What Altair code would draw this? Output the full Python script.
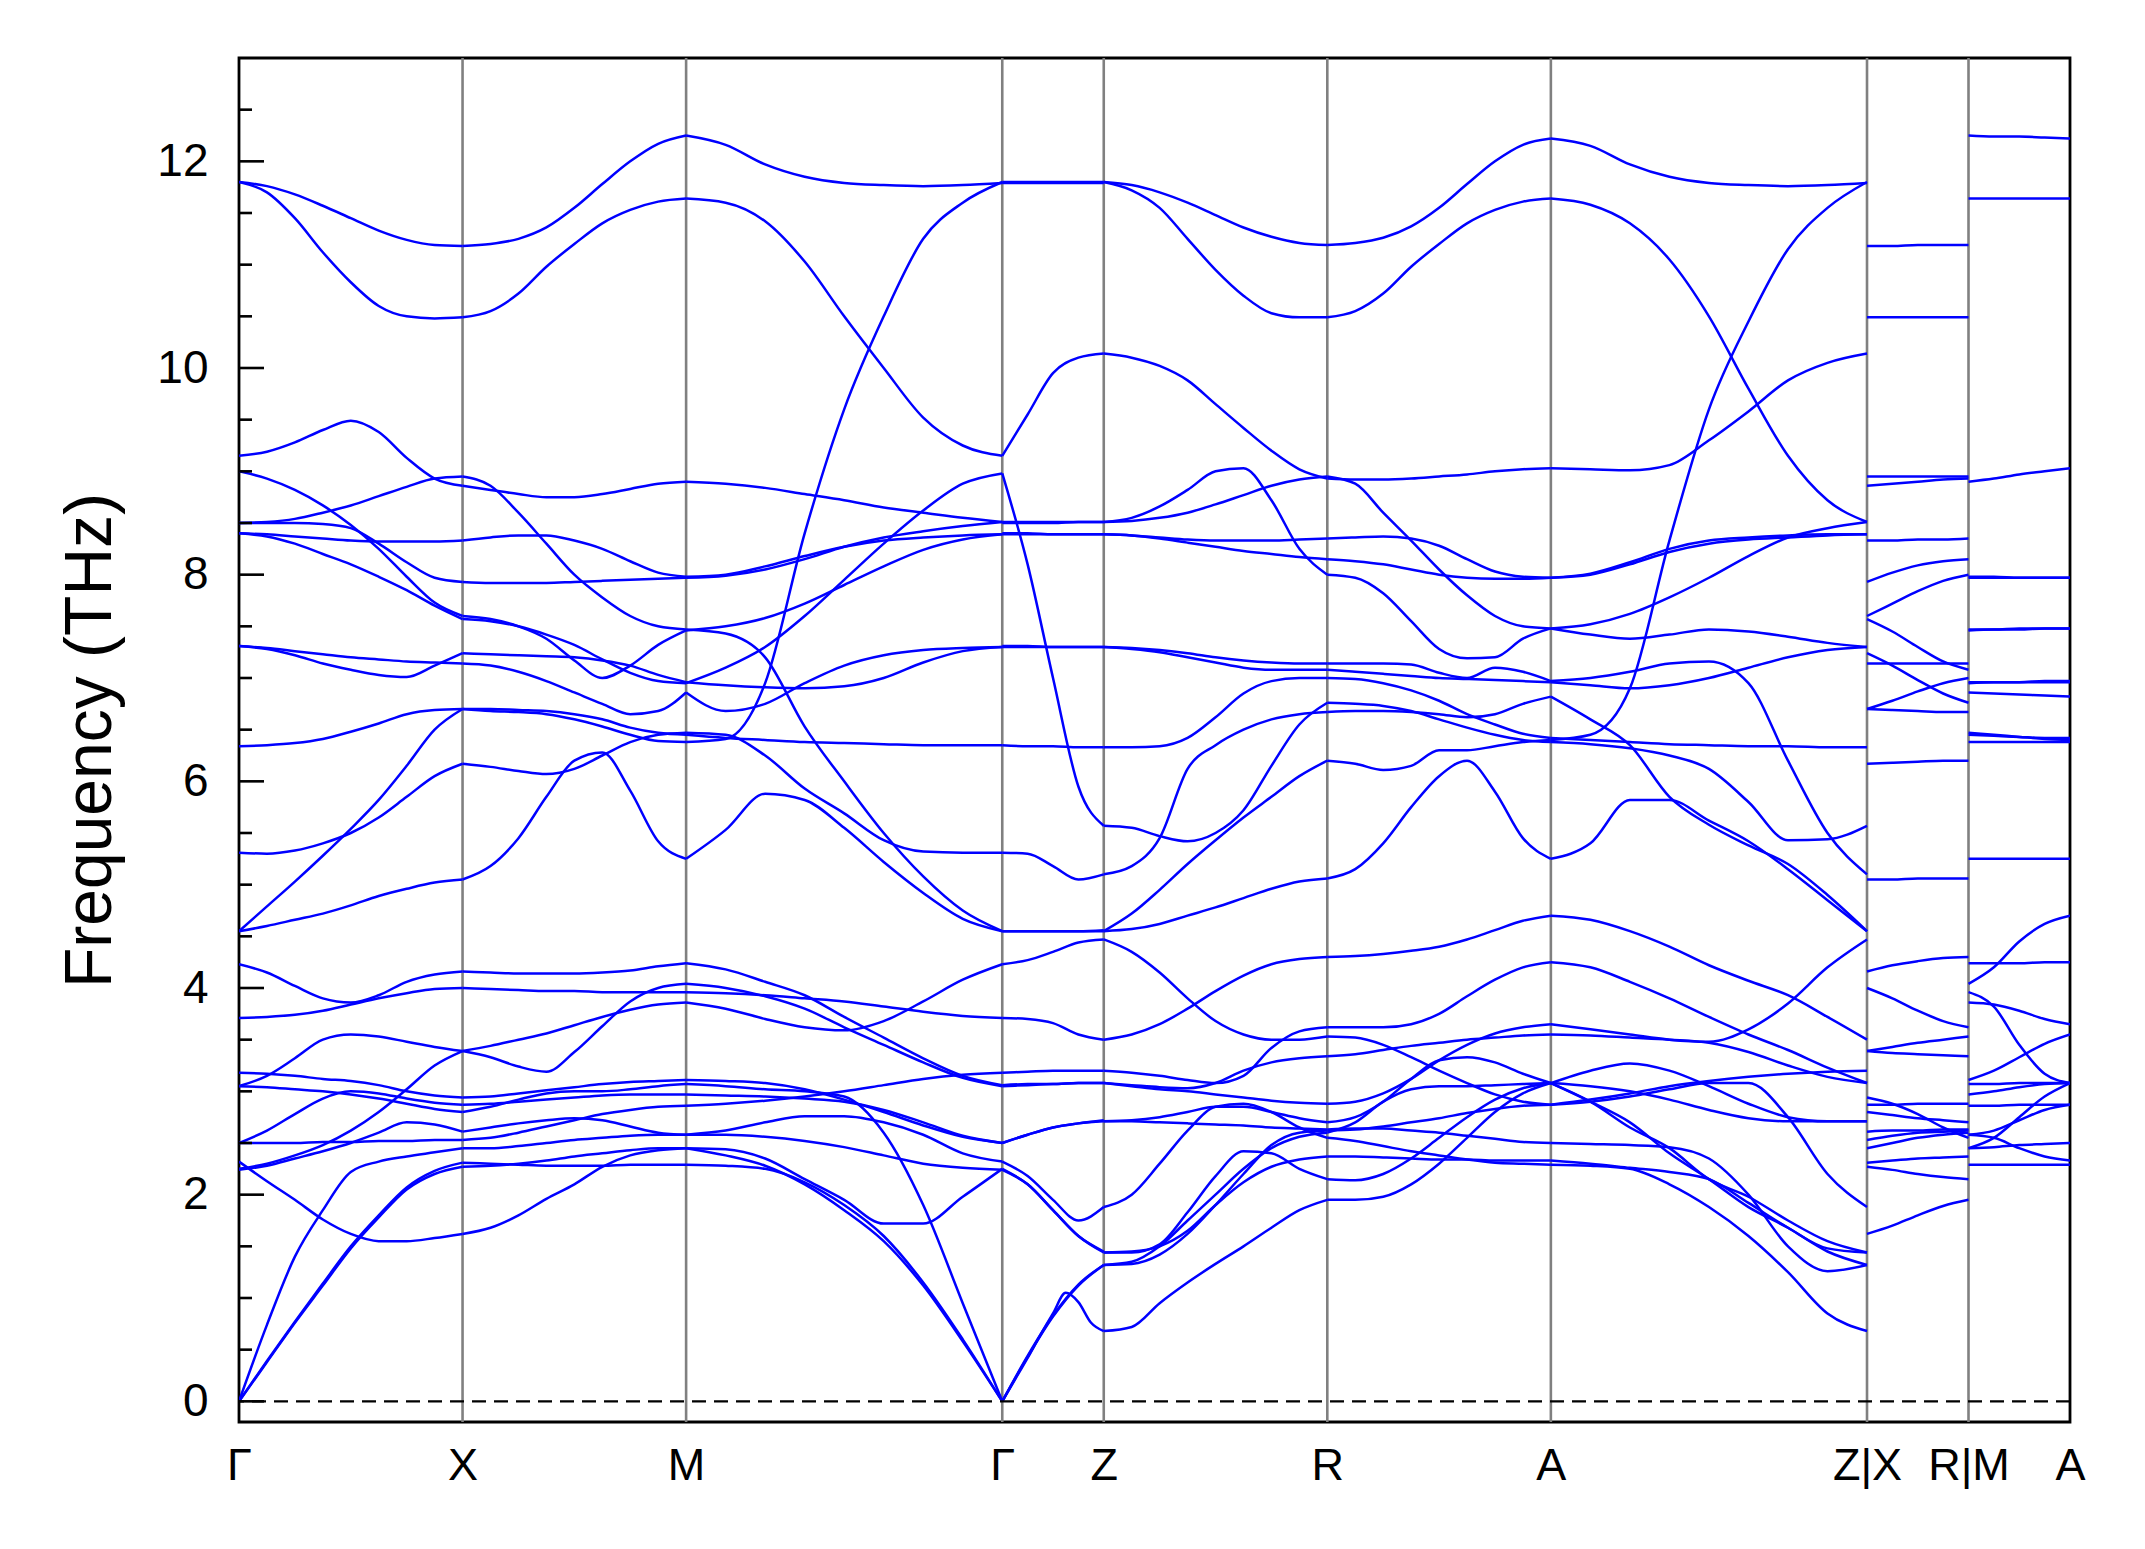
import altair as alt
import pandas as pd

NODE_NAMES = ["Γ", "X", "M", "Γ", "Z", "R", "A", "Z|X", "R|M", "A"]
NODE_POS = [0.0, 1.0, 2.0, 3.4142, 3.8682, 4.8682, 5.8682, 7.2824, 7.7364, 8.1904]

Y_LABELS = [0, 2, 4, 6, 8, 10, 12]
MINOR_TICKS = [v / 2 for v in range(1, 26) if v % 4 != 0]
MAJOR_TICKS = Y_LABELS

# ---- band frequencies (THz), sampled evenly along each path segment ----
G_X = [
    [11.80, 11.76, 11.68, 11.57, 11.45, 11.33, 11.24, 11.19, 11.18],
    [11.80, 11.70, 11.45, 11.12, 10.83, 10.60, 10.50, 10.48, 10.49],
    [9.15, 9.19, 9.28, 9.40, 9.49, 9.38, 9.13, 8.93, 8.86],
    [8.50, 8.51, 8.54, 8.60, 8.67, 8.76, 8.85, 8.93, 8.95],
    [9.00, 8.93, 8.82, 8.67, 8.48, 8.25, 7.98, 7.73, 7.60],
    [8.50, 8.50, 8.50, 8.49, 8.45, 8.30, 8.12, 7.97, 7.93],
    [8.40, 8.39, 8.37, 8.35, 8.33, 8.32, 8.32, 8.32, 8.33],
    [8.40, 8.37, 8.30, 8.20, 8.10, 7.98, 7.85, 7.70, 7.57],
    [7.31, 7.28, 7.22, 7.14, 7.08, 7.03, 7.01, 7.12, 7.24],
    [7.31, 7.29, 7.26, 7.23, 7.20, 7.18, 7.16, 7.15, 7.14],
    [6.34, 6.35, 6.37, 6.41, 6.48, 6.56, 6.65, 6.69, 6.70],
    [4.55, 4.79, 5.03, 5.28, 5.54, 5.82, 6.15, 6.50, 6.70],
    [5.31, 5.30, 5.33, 5.40, 5.50, 5.65, 5.85, 6.05, 6.17],
    [4.55, 4.60, 4.66, 4.72, 4.80, 4.89, 4.96, 5.02, 5.05],
    [4.23, 4.15, 4.02, 3.90, 3.86, 3.93, 4.06, 4.13, 4.16],
    [3.71, 3.72, 3.74, 3.78, 3.84, 3.90, 3.95, 3.99, 4.00],
    [3.05, 3.15, 3.32, 3.50, 3.55, 3.53, 3.48, 3.43, 3.39],
    [3.18, 3.17, 3.15, 3.12, 3.10, 3.06, 3.00, 2.96, 2.94],
    [3.05, 3.04, 3.02, 3.00, 2.97, 2.93, 2.88, 2.83, 2.80],
    [2.50, 2.62, 2.78, 2.93, 3.00, 2.98, 2.93, 2.89, 2.87],
    [2.25, 2.30, 2.38, 2.48, 2.62, 2.80, 3.02, 3.25, 3.39],
    [2.24, 2.28, 2.35, 2.42, 2.50, 2.60, 2.70, 2.68, 2.61],
    [2.50, 2.50, 2.50, 2.51, 2.51, 2.52, 2.52, 2.53, 2.53],
    [2.32, 2.13, 1.95, 1.76, 1.62, 1.55, 1.55, 1.58, 1.62],
    [0.00, 0.74, 1.40, 1.85, 2.22, 2.32, 2.37, 2.41, 2.45],
    [0.00, 0.38, 0.76, 1.12, 1.48, 1.78, 2.05, 2.20, 2.27],
    [0.00, 0.39, 0.77, 1.14, 1.50, 1.80, 2.07, 2.23, 2.31],
]

X_M = [
    [11.18, 11.20, 11.25, 11.36, 11.55, 11.78, 12.00, 12.17, 12.25],
    [10.49, 10.55, 10.72, 10.98, 11.20, 11.40, 11.53, 11.61, 11.64],
    [8.86, 8.82, 8.78, 8.75, 8.75, 8.78, 8.83, 8.88, 8.90],
    [8.95, 8.86, 8.60, 8.30, 8.00, 7.78, 7.60, 7.50, 7.47],
    [8.33, 8.36, 8.38, 8.38, 8.33, 8.25, 8.13, 8.02, 7.98],
    [7.93, 7.92, 7.92, 7.92, 7.93, 7.94, 7.95, 7.96, 7.97],
    [7.60, 7.57, 7.50, 7.38, 7.17, 7.00, 7.12, 7.32, 7.46],
    [7.57, 7.55, 7.50, 7.42, 7.32, 7.18, 7.05, 6.97, 6.95],
    [7.24, 7.23, 7.22, 7.21, 7.20, 7.17, 7.12, 7.03, 6.96],
    [7.14, 7.12, 7.06, 6.97, 6.86, 6.75, 6.65, 6.68, 6.86],
    [6.70, 6.70, 6.69, 6.68, 6.65, 6.60, 6.52, 6.47, 6.45],
    [6.70, 6.68, 6.67, 6.65, 6.60, 6.53, 6.45, 6.39, 6.38],
    [6.17, 6.14, 6.10, 6.07, 6.12, 6.25, 6.38, 6.45, 6.47],
    [5.05, 5.18, 5.45, 5.85, 6.20, 6.28, 5.91, 5.42, 5.25],
    [4.16, 4.15, 4.14, 4.14, 4.14, 4.15, 4.17, 4.21, 4.24],
    [4.00, 3.99, 3.98, 3.97, 3.97, 3.96, 3.96, 3.96, 3.96],
    [3.39, 3.33, 3.24, 3.19, 3.38, 3.63, 3.87, 4.00, 4.04],
    [3.39, 3.44, 3.50, 3.56, 3.64, 3.72, 3.79, 3.84, 3.86],
    [2.94, 2.95, 2.98, 3.01, 3.04, 3.07, 3.09, 3.10, 3.11],
    [2.80, 2.85, 2.92, 2.98, 3.00, 3.00, 3.02, 3.05, 3.07],
    [2.87, 2.88, 2.90, 2.92, 2.94, 2.96, 2.97, 2.97, 2.97],
    [2.61, 2.65, 2.69, 2.72, 2.74, 2.72, 2.66, 2.60, 2.58],
    [2.53, 2.55, 2.60, 2.66, 2.72, 2.78, 2.82, 2.85, 2.86],
    [2.45, 2.45, 2.47, 2.50, 2.53, 2.55, 2.57, 2.58, 2.58],
    [2.31, 2.30, 2.29, 2.28, 2.28, 2.28, 2.29, 2.29, 2.29],
    [2.27, 2.28, 2.30, 2.33, 2.37, 2.40, 2.43, 2.45, 2.45],
    [1.62, 1.68, 1.80, 1.96, 2.10, 2.27, 2.38, 2.43, 2.45],
]

M_G = [
    [12.25, 12.16, 11.97, 11.85, 11.79, 11.77, 11.76, 11.77, 11.79],
    [11.64, 11.60, 11.42, 11.03, 10.50, 10.00, 9.52, 9.25, 9.15],
    [6.38, 6.41, 6.95, 8.40, 9.60, 10.50, 11.25, 11.60, 11.80],
    [8.90, 8.88, 8.84, 8.78, 8.72, 8.65, 8.60, 8.55, 8.51],
    [7.98, 8.00, 8.08, 8.18, 8.27, 8.33, 8.36, 8.38, 8.39],
    [7.97, 7.99, 8.05, 8.15, 8.27, 8.36, 8.42, 8.47, 8.51],
    [7.46, 7.50, 7.58, 7.72, 7.90, 8.08, 8.24, 8.34, 8.39],
    [6.95, 7.10, 7.30, 7.60, 7.95, 8.30, 8.62, 8.88, 8.98],
    [6.96, 6.93, 6.91, 6.90, 6.92, 7.00, 7.15, 7.26, 7.30],
    [6.86, 6.68, 6.75, 6.95, 7.12, 7.22, 7.27, 7.29, 7.30],
    [6.45, 6.42, 6.40, 6.38, 6.37, 6.36, 6.35, 6.35, 6.35],
    [6.47, 6.45, 6.25, 5.93, 5.69, 5.43, 5.32, 5.31, 5.31],
    [5.25, 5.53, 5.88, 5.82, 5.55, 5.22, 4.92, 4.67, 4.55],
    [7.47, 7.43, 7.20, 6.53, 6.00, 5.50, 5.08, 4.75, 4.55],
    [4.24, 4.18, 4.06, 3.93, 3.72, 3.52, 3.32, 3.15, 3.06],
    [4.04, 4.00, 3.92, 3.80, 3.62, 3.45, 3.28, 3.13, 3.05],
    [3.96, 3.95, 3.93, 3.90, 3.87, 3.82, 3.77, 3.73, 3.71],
    [3.86, 3.80, 3.70, 3.62, 3.59, 3.68, 3.87, 4.08, 4.23],
    [2.86, 2.88, 2.91, 2.95, 3.00, 3.06, 3.12, 3.16, 3.18],
    [3.11, 3.10, 3.08, 3.02, 2.92, 2.80, 2.67, 2.56, 2.50],
    [3.07, 3.05, 3.02, 3.00, 2.95, 2.60, 1.90, 0.95, 0.00],
    [2.97, 2.96, 2.95, 2.93, 2.90, 2.82, 2.70, 2.57, 2.50],
    [2.58, 2.58, 2.56, 2.52, 2.46, 2.38, 2.30, 2.26, 2.24],
    [2.45, 2.44, 2.35, 2.15, 1.95, 1.72, 1.72, 1.98, 2.25],
    [2.45, 2.38, 2.28, 2.10, 1.85, 1.55, 1.12, 0.58, 0.00],
    [2.29, 2.28, 2.25, 2.12, 1.90, 1.60, 1.15, 0.60, 0.00],
    [2.58, 2.62, 2.70, 2.76, 2.76, 2.70, 2.58, 2.40, 2.32],
]

G_Z = [
    [11.80, 11.80, 11.80, 11.80, 11.80],
    [11.79, 11.79, 11.79, 11.79, 11.79],
    [9.15, 9.55, 9.95, 10.10, 10.14],
    [8.98, 8.10, 7.00, 5.95, 5.57],
    [8.51, 8.51, 8.51, 8.51, 8.51],
    [8.50, 8.50, 8.50, 8.51, 8.51],
    [8.39, 8.39, 8.39, 8.39, 8.39],
    [8.40, 8.40, 8.39, 8.39, 8.39],
    [7.30, 7.30, 7.30, 7.30, 7.30],
    [7.31, 7.31, 7.30, 7.30, 7.30],
    [6.35, 6.34, 6.34, 6.33, 6.33],
    [5.31, 5.30, 5.18, 5.05, 5.10],
    [4.55, 4.55, 4.55, 4.55, 4.55],
    [4.55, 4.55, 4.55, 4.55, 4.56],
    [4.23, 4.27, 4.35, 4.44, 4.47],
    [3.71, 3.70, 3.66, 3.55, 3.50],
    [3.18, 3.19, 3.20, 3.20, 3.20],
    [3.06, 3.07, 3.07, 3.08, 3.08],
    [3.05, 3.06, 3.07, 3.08, 3.08],
    [2.50, 2.58, 2.65, 2.69, 2.71],
    [2.50, 2.58, 2.65, 2.69, 2.72],
    [2.32, 2.18, 1.95, 1.75, 1.88],
    [2.25, 2.10, 1.85, 1.60, 1.44],
    [2.24, 2.10, 1.85, 1.60, 1.45],
    [0.00, 0.21, 0.42, 0.64, 0.85, 1.05, 0.96, 0.76, 0.68],
    [0.00, 0.43, 0.82, 1.12, 1.32],
    [0.00, 0.44, 0.83, 1.13, 1.32],
]

Z_R = [
    [11.80, 11.77, 11.70, 11.60, 11.48, 11.36, 11.27, 11.21, 11.19],
    [11.80, 11.72, 11.55, 11.25, 10.95, 10.70, 10.53, 10.49, 10.49],
    [10.14, 10.10, 10.02, 9.88, 9.65, 9.42, 9.20, 9.02, 8.93],
    [8.51, 8.55, 8.66, 8.82, 9.00, 9.03, 8.72, 8.25, 8.00],
    [8.51, 8.52, 8.55, 8.60, 8.68, 8.77, 8.86, 8.92, 8.95],
    [8.39, 8.38, 8.36, 8.34, 8.33, 8.33, 8.33, 8.34, 8.35],
    [8.39, 8.38, 8.35, 8.31, 8.27, 8.23, 8.20, 8.17, 8.15],
    [7.30, 7.29, 7.27, 7.24, 7.20, 7.17, 7.15, 7.14, 7.14],
    [7.30, 7.28, 7.25, 7.20, 7.15, 7.10, 7.08, 7.08, 7.08],
    [6.33, 6.33, 6.34, 6.42, 6.62, 6.85, 6.97, 7.00, 7.00],
    [5.57, 5.55, 5.47, 5.42, 5.50, 5.72, 6.15, 6.55, 6.76],
    [5.10, 5.18, 5.45, 6.12, 6.35, 6.50, 6.60, 6.65, 6.67],
    [4.55, 4.57, 4.62, 4.70, 4.78, 4.87, 4.96, 5.03, 5.06],
    [4.55, 4.72, 4.95, 5.20, 5.43, 5.65, 5.85, 6.05, 6.20],
    [4.47, 4.35, 4.15, 3.90, 3.68, 3.55, 3.50, 3.50, 3.53],
    [3.50, 3.55, 3.65, 3.80, 3.97, 4.12, 4.23, 4.28, 4.30],
    [3.20, 3.18, 3.15, 3.11, 3.08, 3.15, 3.42, 3.58, 3.62],
    [3.08, 3.06, 3.04, 3.03, 3.08, 3.20, 3.28, 3.32, 3.34],
    [3.08, 3.05, 3.02, 3.00, 2.97, 2.94, 2.91, 2.89, 2.88],
    [2.71, 2.71, 2.70, 2.69, 2.68, 2.67, 2.65, 2.64, 2.63],
    [2.71, 2.72, 2.75, 2.80, 2.85, 2.85, 2.80, 2.74, 2.70],
    [1.88, 2.00, 2.30, 2.62, 2.85, 2.88, 2.80, 2.65, 2.55],
    [1.44, 1.44, 1.52, 1.83, 2.18, 2.42, 2.40, 2.25, 2.15],
    [1.44, 1.45, 1.50, 1.65, 1.90, 2.12, 2.27, 2.34, 2.37],
    [1.32, 1.35, 1.50, 1.75, 2.00, 2.25, 2.45, 2.56, 2.60],
    [1.32, 1.33, 1.42, 1.62, 1.90, 2.20, 2.48, 2.60, 2.62],
    [0.68, 0.72, 0.95, 1.15, 1.33, 1.50, 1.68, 1.85, 1.95],
]

R_A = [
    [11.19, 11.21, 11.26, 11.37, 11.55, 11.78, 12.00, 12.16, 12.22],
    [10.49, 10.55, 10.72, 10.98, 11.20, 11.40, 11.53, 11.61, 11.64],
    [8.93, 8.92, 8.92, 8.93, 8.95, 8.97, 9.00, 9.02, 9.03],
    [8.95, 8.88, 8.60, 8.33, 8.05, 7.80, 7.60, 7.50, 7.48],
    [8.35, 8.36, 8.37, 8.35, 8.28, 8.15, 8.03, 7.98, 7.97],
    [8.15, 8.13, 8.10, 8.05, 8.00, 7.97, 7.96, 7.96, 7.97],
    [8.00, 7.97, 7.82, 7.55, 7.28, 7.19, 7.20, 7.38, 7.48],
    [7.14, 7.14, 7.14, 7.13, 7.05, 7.00, 7.10, 7.06, 6.97],
    [7.08, 7.06, 7.04, 7.02, 7.00, 6.99, 6.98, 6.97, 6.96],
    [7.00, 6.99, 6.95, 6.88, 6.78, 6.65, 6.55, 6.46, 6.42],
    [6.76, 6.75, 6.73, 6.68, 6.60, 6.52, 6.45, 6.40, 6.38],
    [6.67, 6.68, 6.68, 6.67, 6.65, 6.62, 6.65, 6.75, 6.82],
    [6.20, 6.17, 6.11, 6.15, 6.30, 6.30, 6.34, 6.38, 6.40],
    [5.06, 5.15, 5.40, 5.75, 6.05, 6.20, 5.90, 5.45, 5.25],
    [4.30, 4.31, 4.33, 4.36, 4.40, 4.47, 4.56, 4.65, 4.70],
    [3.62, 3.62, 3.62, 3.65, 3.75, 3.92, 4.08, 4.20, 4.25],
    [3.53, 3.52, 3.45, 3.33, 3.20, 3.08, 2.97, 2.90, 2.87],
    [3.34, 3.36, 3.40, 3.44, 3.47, 3.50, 3.52, 3.54, 3.55],
    [2.88, 2.90, 2.98, 3.12, 3.30, 3.45, 3.56, 3.62, 3.65],
    [2.70, 2.75, 2.90, 3.12, 3.30, 3.33, 3.28, 3.17, 3.08],
    [2.63, 2.64, 2.64, 2.62, 2.60, 2.57, 2.54, 2.51, 2.50],
    [2.60, 2.70, 2.90, 3.02, 3.05, 3.05, 3.06, 3.07, 3.08],
    [2.62, 2.63, 2.66, 2.70, 2.74, 2.79, 2.83, 2.86, 2.87],
    [2.55, 2.52, 2.47, 2.42, 2.38, 2.34, 2.31, 2.30, 2.29],
    [2.15, 2.14, 2.20, 2.35, 2.55, 2.75, 2.92, 3.03, 3.08],
    [2.37, 2.37, 2.36, 2.35, 2.34, 2.34, 2.33, 2.33, 2.33],
    [1.95, 1.95, 1.98, 2.10, 2.30, 2.55, 2.80, 2.98, 3.08],
]

A_Z = [
    [12.22, 12.15, 11.97, 11.85, 11.79, 11.77, 11.76, 11.77, 11.79],
    [11.64, 11.58, 11.40, 11.05, 10.50, 9.80, 9.15, 8.72, 8.51],
    [6.40, 6.45, 6.90, 8.33, 9.60, 10.45, 11.15, 11.55, 11.80],
    [9.03, 9.02, 9.01, 9.06, 9.30, 9.58, 9.88, 10.05, 10.14],
    [7.48, 7.52, 7.62, 7.78, 7.97, 8.18, 8.36, 8.45, 8.51],
    [7.97, 8.00, 8.10, 8.22, 8.30, 8.34, 8.36, 8.38, 8.39],
    [7.97, 8.01, 8.12, 8.25, 8.33, 8.36, 8.38, 8.39, 8.39],
    [7.48, 7.42, 7.38, 7.42, 7.47, 7.45, 7.40, 7.34, 7.30],
    [6.96, 6.93, 6.90, 6.93, 7.00, 7.10, 7.20, 7.27, 7.30],
    [6.42, 6.40, 6.38, 6.36, 6.35, 6.34, 6.34, 6.33, 6.33],
    [6.82, 6.60, 6.35, 5.85, 5.58, 5.38, 5.20, 4.90, 4.55],
    [5.25, 5.40, 5.82, 5.82, 5.62, 5.42, 5.15, 4.85, 4.55],
    [6.38, 6.36, 6.32, 6.25, 6.12, 5.80, 5.43, 5.44, 5.57],
    [6.97, 7.00, 7.06, 7.14, 7.16, 6.95, 6.20, 5.50, 5.10],
    [4.70, 4.66, 4.55, 4.40, 4.22, 4.07, 3.93, 3.72, 3.50],
    [4.25, 4.20, 4.06, 3.90, 3.72, 3.55, 3.40, 3.23, 3.08],
    [3.65, 3.60, 3.55, 3.50, 3.48, 3.60, 3.85, 4.20, 4.47],
    [3.55, 3.54, 3.52, 3.50, 3.47, 3.38, 3.25, 3.14, 3.08],
    [2.87, 2.92, 2.98, 3.05, 3.10, 3.14, 3.17, 3.19, 3.20],
    [3.08, 3.05, 3.00, 2.92, 2.82, 2.74, 2.71, 2.71, 2.71],
    [3.08, 3.20, 3.27, 3.20, 3.05, 2.88, 2.75, 2.71, 2.71],
    [3.08, 2.90, 2.65, 2.45, 2.15, 1.98, 1.75, 1.55, 1.44],
    [3.08, 2.90, 2.70, 2.40, 2.15, 1.88, 1.68, 1.45, 1.32],
    [2.50, 2.49, 2.48, 2.46, 2.35, 2.00, 1.50, 1.26, 1.32],
    [2.33, 2.30, 2.26, 2.22, 2.15, 1.92, 1.68, 1.48, 1.44],
    [2.29, 2.28, 2.25, 2.10, 1.88, 1.60, 1.25, 0.85, 0.68],
    [2.87, 2.90, 2.95, 3.02, 3.08, 3.08, 2.75, 2.20, 1.88],
]

X_R = [
    [11.18, 11.18, 11.19, 11.19, 11.19],
    [10.49, 10.49, 10.49, 10.49, 10.49],
    [8.86, 8.88, 8.90, 8.92, 8.93],
    [8.95, 8.95, 8.95, 8.95, 8.95],
    [8.33, 8.33, 8.34, 8.34, 8.35],
    [7.93, 8.02, 8.09, 8.13, 8.15],
    [7.60, 7.72, 7.84, 7.94, 8.00],
    [7.57, 7.45, 7.30, 7.16, 7.08],
    [7.24, 7.12, 6.98, 6.85, 6.76],
    [7.14, 7.14, 7.14, 7.14, 7.14],
    [6.70, 6.78, 6.87, 6.95, 7.00],
    [6.70, 6.69, 6.68, 6.67, 6.67],
    [6.17, 6.18, 6.19, 6.20, 6.20],
    [5.05, 5.05, 5.06, 5.06, 5.06],
    [4.16, 4.22, 4.26, 4.29, 4.30],
    [4.00, 3.90, 3.78, 3.68, 3.62],
    [3.39, 3.43, 3.47, 3.50, 3.53],
    [3.39, 3.37, 3.36, 3.35, 3.34],
    [2.94, 2.88, 2.78, 2.65, 2.55],
    [2.87, 2.87, 2.88, 2.88, 2.88],
    [2.80, 2.77, 2.74, 2.72, 2.70],
    [2.61, 2.62, 2.62, 2.63, 2.63],
    [2.53, 2.57, 2.60, 2.61, 2.62],
    [2.45, 2.50, 2.55, 2.58, 2.60],
    [2.31, 2.33, 2.35, 2.36, 2.37],
    [2.27, 2.24, 2.20, 2.17, 2.15],
    [1.62, 1.70, 1.80, 1.89, 1.95],
]

M_A = [
    [12.25, 12.24, 12.24, 12.23, 12.22],
    [11.64, 11.64, 11.64, 11.64, 11.64],
    [8.90, 8.93, 8.97, 9.00, 9.03],
    [7.98, 7.98, 7.97, 7.97, 7.97],
    [7.97, 7.97, 7.97, 7.97, 7.97],
    [7.47, 7.47, 7.48, 7.48, 7.48],
    [7.46, 7.47, 7.47, 7.48, 7.48],
    [6.95, 6.96, 6.96, 6.97, 6.97],
    [6.96, 6.96, 6.96, 6.96, 6.96],
    [6.86, 6.85, 6.84, 6.83, 6.82],
    [6.45, 6.44, 6.43, 6.42, 6.42],
    [6.38, 6.38, 6.38, 6.38, 6.38],
    [6.47, 6.45, 6.43, 6.41, 6.40],
    [5.25, 5.25, 5.25, 5.25, 5.25],
    [4.24, 4.24, 4.24, 4.25, 4.25],
    [4.04, 4.20, 4.45, 4.62, 4.70],
    [3.96, 3.82, 3.45, 3.17, 3.08],
    [3.86, 3.84, 3.78, 3.70, 3.65],
    [3.11, 3.20, 3.33, 3.46, 3.55],
    [3.07, 3.07, 3.08, 3.08, 3.08],
    [2.97, 3.00, 3.04, 3.07, 3.08],
    [2.86, 2.86, 2.87, 2.87, 2.87],
    [2.58, 2.62, 2.72, 2.82, 2.87],
    [2.58, 2.55, 2.45, 2.37, 2.33],
    [2.45, 2.46, 2.48, 2.49, 2.50],
    [2.45, 2.55, 2.75, 2.95, 3.08],
    [2.29, 2.29, 2.29, 2.29, 2.29],
]

# segment -> (start node index, end node index, bands)
SEGMENTS = [
    ("GX", 0, 1, G_X),
    ("XM", 1, 2, X_M),
    ("MG", 2, 3, M_G),
    ("GZ", 3, 4, G_Z),
    ("ZR", 4, 5, Z_R),
    ("RA", 5, 6, R_A),
    ("AZ", 6, 7, A_Z),
    ("XR", 7, 8, X_R),
    ("MA", 8, 9, M_A),
]

rows = []
for name, i0, i1, bands in SEGMENTS:
    x0, x1 = NODE_POS[i0], NODE_POS[i1]
    for b, vals in enumerate(bands):
        n = len(vals)
        for j, v in enumerate(vals):
            rows.append({"k": x0 + (x1 - x0) * j / (n - 1), "freq": v, "band": f"{name}{b}"})
bands_df = pd.DataFrame(rows)

FONT = "Liberation Sans"
X_DOMAIN = [NODE_POS[0], NODE_POS[-1]]
Y_DOMAIN = [-0.2, 13.0]

label_expr = "''"
for pos, nm in reversed(list(zip(NODE_POS, NODE_NAMES))):
    label_expr = f"abs(datum.value - {pos}) < 0.001 ? '{nm}' : ({label_expr})"

x_enc = alt.X(
    "k:Q",
    scale=alt.Scale(domain=X_DOMAIN, nice=False, zero=False),
    axis=alt.Axis(
        values=NODE_POS, labelExpr=label_expr, title=None, ticks=False, tickSize=0,
        domain=False, grid=False, labelFont=FONT, labelFontSize=45, labelColor="black",
        labelPadding=21, labelFlush=False, labelOverlap=False,
    ),
)
y_enc = alt.Y(
    "freq:Q",
    scale=alt.Scale(domain=Y_DOMAIN, nice=False, zero=False),
    axis=alt.Axis(
        values=Y_LABELS, format="d", title="Frequency (THz)", ticks=False, tickSize=0,
        domain=False, grid=False, labelFont=FONT, labelFontSize=46, labelColor="black",
        labelPadding=31, titleFont=FONT, titleFontSize=66, titleFontWeight="normal",
        titleColor="black", titlePadding=32,
    ),
)

vlines = alt.Chart(pd.DataFrame({"k": NODE_POS[1:-1]})).mark_rule(
    color="#808080", strokeWidth=2.6
).encode(x=alt.X("k:Q"))

lines = alt.Chart(bands_df).mark_line(
    interpolate="monotone", color="#0000ff", strokeWidth=2.5, clip=True
).encode(x=x_enc, y=y_enc, detail="band:N")

zero = alt.Chart(pd.DataFrame({"f": [0.0]})).mark_rule(
    color="black", strokeWidth=2.3, strokeDash=[14, 8]
).encode(y=alt.Y("f:Q"))

major = alt.Chart(pd.DataFrame({"f": MAJOR_TICKS})).mark_rule(
    color="black", strokeWidth=2.6
).encode(y=alt.Y("f:Q"), x=alt.value(0), x2=alt.value(25))

minor = alt.Chart(pd.DataFrame({"f": MINOR_TICKS})).mark_rule(
    color="black", strokeWidth=2.6
).encode(y=alt.Y("f:Q"), x=alt.value(0), x2=alt.value(13))

chart = alt.layer(vlines, lines, zero, major, minor).properties(
    width=1831, height=1364,
    padding={"left": 231, "top": 50, "right": 60, "bottom": 100},
    autosize=alt.AutoSizeParams(type="none"),
).configure_view(stroke="black", strokeWidth=2.8)

chart.save("out.html", embed_options={"renderer": "svg", "actions": False})
